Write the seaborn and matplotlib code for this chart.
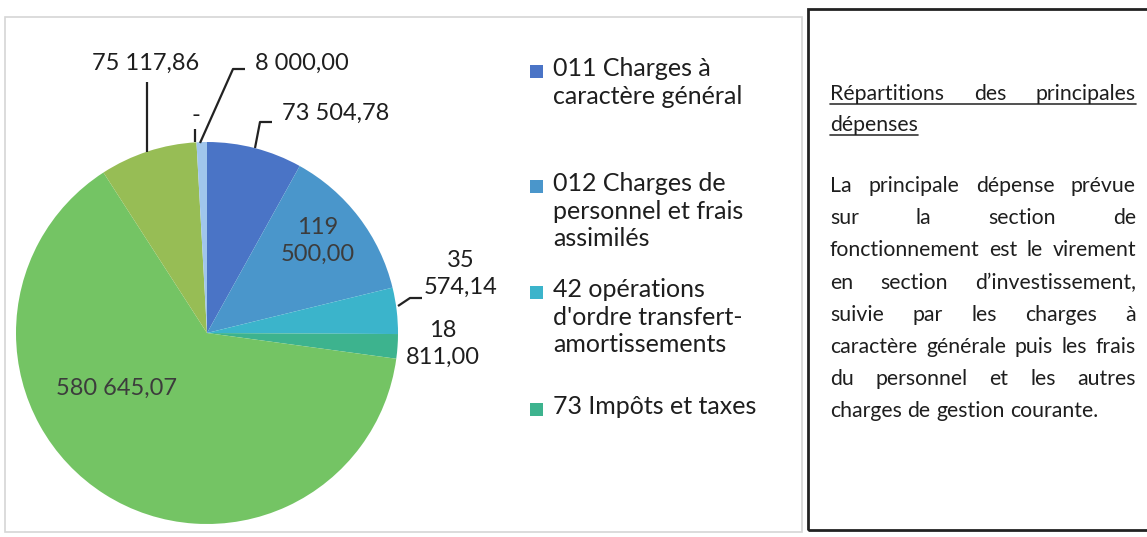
import matplotlib
matplotlib.use("Agg")
import matplotlib.pyplot as plt
import seaborn as sns
from matplotlib.patches import Rectangle

# ---------------- data ----------------
categories = [
    "011 Charges à caractère général",
    "012 Charges de personnel et frais assimilés",
    "42 opérations d'ordre transfert-amortissements",
    "73 Impôts et taxes",
    "023 Virement à la section d'investissement",
    "65 Autres charges de gestion courante",
    "66 Charges financières",
    "67 Charges exceptionnelles",
]
values = [73504.78, 119500.00, 35574.14, 18811.00, 580645.07, 75117.86, 0.0, 8000.00]
value_labels = ["73 504,78", "119\n500,00", "35\n574,14", "18\n811,00",
                "580 645,07", "75 117,86", "-", "8 000,00"]
legend_labels = [
    "011 Charges à\ncaractère général",
    "012 Charges de\npersonnel et frais\nassimilés",
    "42 opérations\nd'ordre transfert-\namortissements",
    "73 Impôts et taxes",
]
colors = ["#4a74c6", "#4a96cb", "#3bb4cb", "#3db38e", "#74c464", "#97bd55", "#c0c0c0", "#a0c6ec"]

title_lines = [["Répartitions", "des", "principales"], ["dépenses"]]
body_lines = [
    "La principale dépense prévue",
    "sur la section de",
    "fonctionnement est le virement",
    "en section d’investissement,",
    "suivie par les charges à",
    "caractère générale puis les frais",
    "du personnel et les autres",
    "charges de gestion courante.",
]

# ---------------- figure ----------------
sns.set_theme(style="white")
plt.rcParams['font.family'] = ['Lato', 'DejaVu Sans']
W, H = 1147, 537
fig = plt.figure(figsize=(W / 100, H / 100), dpi=100)
fig.patch.set_facecolor("white")

ax = fig.add_axes([0, 0, 1, 1])
palette = sns.color_palette(colors)
cx, cy, R = 207, 333, 191


def px(x, y):
    return x, H - y


wedges, _ = ax.pie(values, colors=palette, startangle=90, counterclock=False,
                   center=px(cx, cy), radius=R, frame=False,
                   wedgeprops=dict(linewidth=0))
ax.set_xlim(0, W)
ax.set_ylim(0, H)
ax.set_aspect("equal")
ax.axis("off")

# chart frame (light grey)
ax.add_patch(Rectangle(px(5, 532), 797, 515, fill=False, edgecolor="#d6d6d6", lw=1.2))

# ---------------- data labels ----------------
lab_fs = 17
dark = "#1e1e1e"
inside = "#3c3c3c"
label_pos = [
    (282, 113, "left", dark),
    (318, 241, "center", inside),
    (461, 274, "center", dark),
    (443, 344, "center", dark),
    (117, 388, "center", inside),
    (146, 63, "center", dark),
    (196, 116, "center", dark),
    (255, 63, "left", dark),
]
for txt, (x, y, ha, c) in zip(value_labels, label_pos):
    ax.text(*px(x, y), txt, ha=ha, va="center", fontsize=lab_fs, color=c,
            linespacing=1.3)

leaders = [
    [(272, 122), (260, 122), (255, 148)],
    [(422, 298), (410, 298), (398, 306)],
    [(147, 82), (147, 152)],
    [(195, 129), (195, 142)],
    [(245, 69), (233, 69), (200, 143)],
]
for pts in leaders:
    xs = [p[0] for p in pts]
    ys = [H - p[1] for p in pts]
    ax.plot(xs, ys, color="#222222", lw=1.6, solid_capstyle="butt")

# ---------------- legend ----------------
leg_fs = 18
leg_y = [72, 187, 293, 410]
for lab, y, col in zip(legend_labels, leg_y, palette[:4]):
    ax.add_patch(Rectangle(px(530, y + 6), 13, 13, facecolor=col, edgecolor="none"))
    ax.text(*px(553, y - 15), lab, ha="left", va="top", fontsize=leg_fs,
            color="#1e1e1e", linespacing=1.25)

# ---------------- text box ----------------
ax.add_patch(Rectangle(px(808, 530), 345, 521, fill=False, edgecolor="#222222", lw=2))

renderer = fig.canvas.get_renderer()
box_fs = 15.3
X0, X1 = 830, 1136


def place_line(words, y, justify=True, underline=False):
    texts = [ax.text(0, 0, w, fontsize=box_fs, color="#1e1e1e", ha="left",
                     va="baseline") for w in words]
    widths = [t.get_window_extent(renderer).width for t in texts]
    t1 = ax.text(0, 0, "a a", fontsize=box_fs)
    t2 = ax.text(0, 0, "aa", fontsize=box_fs)
    sp = t1.get_window_extent(renderer).width - t2.get_window_extent(renderer).width
    t1.remove()
    t2.remove()
    if justify and len(words) > 1:
        gap = (X1 - X0 - sum(widths)) / (len(words) - 1)
    else:
        gap = sp
    x = X0
    for t, w in zip(texts, widths):
        t.set_position(px(x, y))
        x += w + gap
    if underline:
        end = x - gap
        ax.plot([X0, end], [H - y - 4, H - y - 4], color="#333333", lw=1.2)


place_line(title_lines[0], 100, justify=True, underline=True)
place_line(title_lines[1], 131, justify=False, underline=True)
for i, line in enumerate(body_lines):
    y = 192 + i * 32.2
    place_line(line.split(), y, justify=(i < len(body_lines) - 1))

fig.savefig("out.png", dpi=100, facecolor="white")
